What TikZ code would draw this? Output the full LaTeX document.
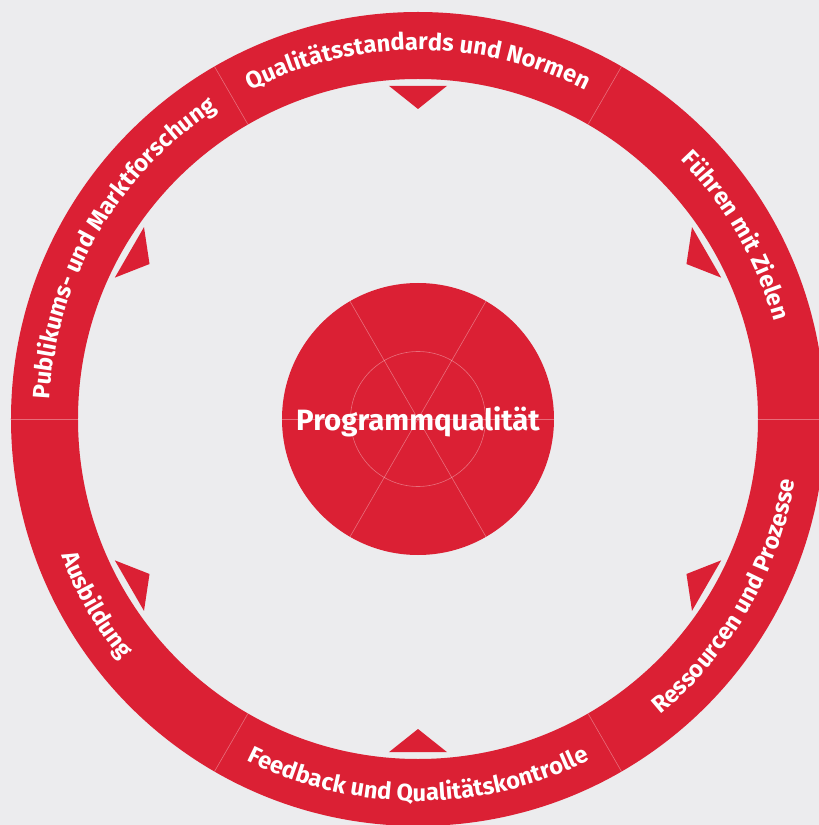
\documentclass[tikz,border=0pt]{standalone}
\usepackage{fontspec}
\setmainfont{Fira Sans}
\usetikzlibrary{decorations.text}
\definecolor{ringred}{RGB}{219,32,52}
\definecolor{paper}{RGB}{236,236,238}
\newcommand{\ringfont}{\bfseries\fontsize{23.8}{28}\selectfont}

\begin{document}
\begin{tikzpicture}[
  x=1bp, y=1bp,
  seam/.style={draw=white, draw opacity=0.35, line width=0.6bp},
  pointer/.style={fill=ringred},
  ringlabel/.style={decorate, decoration={text along path, text align=center, text color=white}},
  hubtext/.style={text=white, font=\bfseries\fontsize{29.5}{34}\selectfont, inner sep=0pt}
]
  % background, fixes the frame
  \fill[paper] (-418,-406) rectangle (401,419);
  \useasboundingbox (-418,-406) rectangle (401,419);

  % outer ring with six sectors
  \fill[ringred, even odd rule] (0,0) circle[radius=407] circle[radius=340];
  \foreach \a in {0,60,...,300}
    \draw[seam] (\a:340) -- (\a:407);

  % pointers towards the hub
  \foreach \a in {30,90,...,330}
    \fill[pointer] ({\a-5}:334.5) -- (\a:310) -- ({\a+5}:334.5) -- cycle;

  % hub
  \fill[ringred] (0,0) circle[radius=136];
  \draw[seam] (0,0) circle[radius=67.5];
  \foreach \a in {0,60,120}
    \draw[seam] (\a:136) -- ({\a+180}:136);
  \node[hubtext, anchor=base] (hub) at (0,-11) {Programmqualität};

  % upper labels, read clockwise
  \path[ringlabel, decoration={text={|\ringfont|Publikums- und Marktforschung}}]
    (179.5:369) arc[start angle=179.5, end angle=120.5, radius=369];
  \path[ringlabel, decoration={text={|\ringfont|Qualitätsstandards und Normen}}]
    (119.5:369) arc[start angle=119.5, end angle=60.5, radius=369];
  \path[ringlabel, decoration={text={|\ringfont|Führen mit Zielen}}]
    (59.5:369) arc[start angle=59.5, end angle=0.5, radius=369];

  % lower labels, read counter-clockwise
  \path[ringlabel, decoration={text={|\ringfont|Ausbildung}}]
    (180.5:382) arc[start angle=180.5, end angle=239.5, radius=382];
  \path[ringlabel, decoration={text={|\ringfont|Feedback und Qualitätskontrolle}}]
    (240.5:382) arc[start angle=240.5, end angle=299.5, radius=382];
  \path[ringlabel, decoration={text={|\ringfont|Ressourcen und Prozesse}}]
    (300.5:382) arc[start angle=300.5, end angle=359.5, radius=382];
\end{tikzpicture}
\end{document}
